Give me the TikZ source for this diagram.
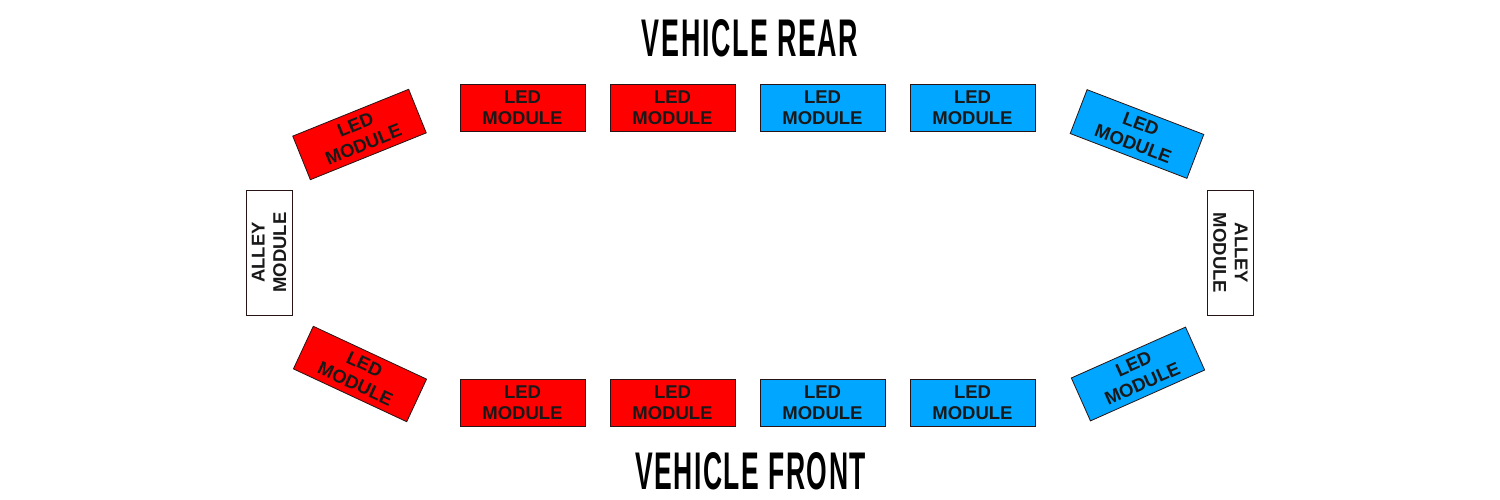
\documentclass[tikz,border=0pt]{standalone}
\usepackage{fontspec}
\setmainfont{Liberation Sans}
\newfontfamily\titlefont[LetterSpace=6]{Liberation Sans}
\usepackage{graphicx}
\definecolor{ledred}{RGB}{255,0,0}
\definecolor{ledblue}{RGB}{0,166,255}
\definecolor{edge}{RGB}{40,20,20}
\begin{document}
\begin{tikzpicture}[x=1pt,y=-1pt,
  module/.style={draw=edge,line width=0.8pt,minimum width=125pt,minimum height=47pt,
    inner sep=0pt,align=center,text=black!90,
    font=\fontsize{18.5}{21.5}\selectfont\bfseries},
  redmod/.style={module,fill=ledred},
  bluemod/.style={module,fill=ledblue},
  alley/.style={module,fill=white,minimum width=125pt,minimum height=46pt},
  title/.style={inner sep=0pt,text=black}]
\useasboundingbox (0,0) rectangle (1500,500);
\node[title] (rear) at (750,38.5) {\resizebox{216pt}{37pt}{\titlefont\bfseries VEHICLE REAR}};
\node[title] (front) at (750.5,471.5) {\resizebox{231pt}{37pt}{\titlefont\bfseries VEHICLE FRONT}};
% top row
\node[redmod] (t1) at (522.5,107.5) {LED\\MODULE};
\node[redmod] (t2) at (672.5,107.5) {LED\\MODULE};
\node[bluemod] (t3) at (822.5,107.5) {LED\\MODULE};
\node[bluemod] (t4) at (972.5,107.5) {LED\\MODULE};
% bottom row
\node[redmod] (b1) at (522.5,402.5) {LED\\MODULE};
\node[redmod] (b2) at (672.5,402.5) {LED\\MODULE};
\node[bluemod] (b3) at (822.5,402.5) {LED\\MODULE};
\node[bluemod] (b4) at (972.5,402.5) {LED\\MODULE};
% corners
\node[redmod,rotate=22] (tl) at (359.5,134.5) {LED\\MODULE};
\node[bluemod,rotate=-21] (tr) at (1137,134) {LED\\MODULE};
\node[redmod,rotate=-25] (bl) at (360,374) {LED\\MODULE};
\node[bluemod,rotate=24] (br) at (1138,374) {LED\\MODULE};
% alley
\node[alley,rotate=90] (al) at (269,252.5) {ALLEY\\MODULE};
\node[alley,rotate=-90] (ar) at (1230.5,253) {ALLEY\\MODULE};
\end{tikzpicture}
\end{document}
